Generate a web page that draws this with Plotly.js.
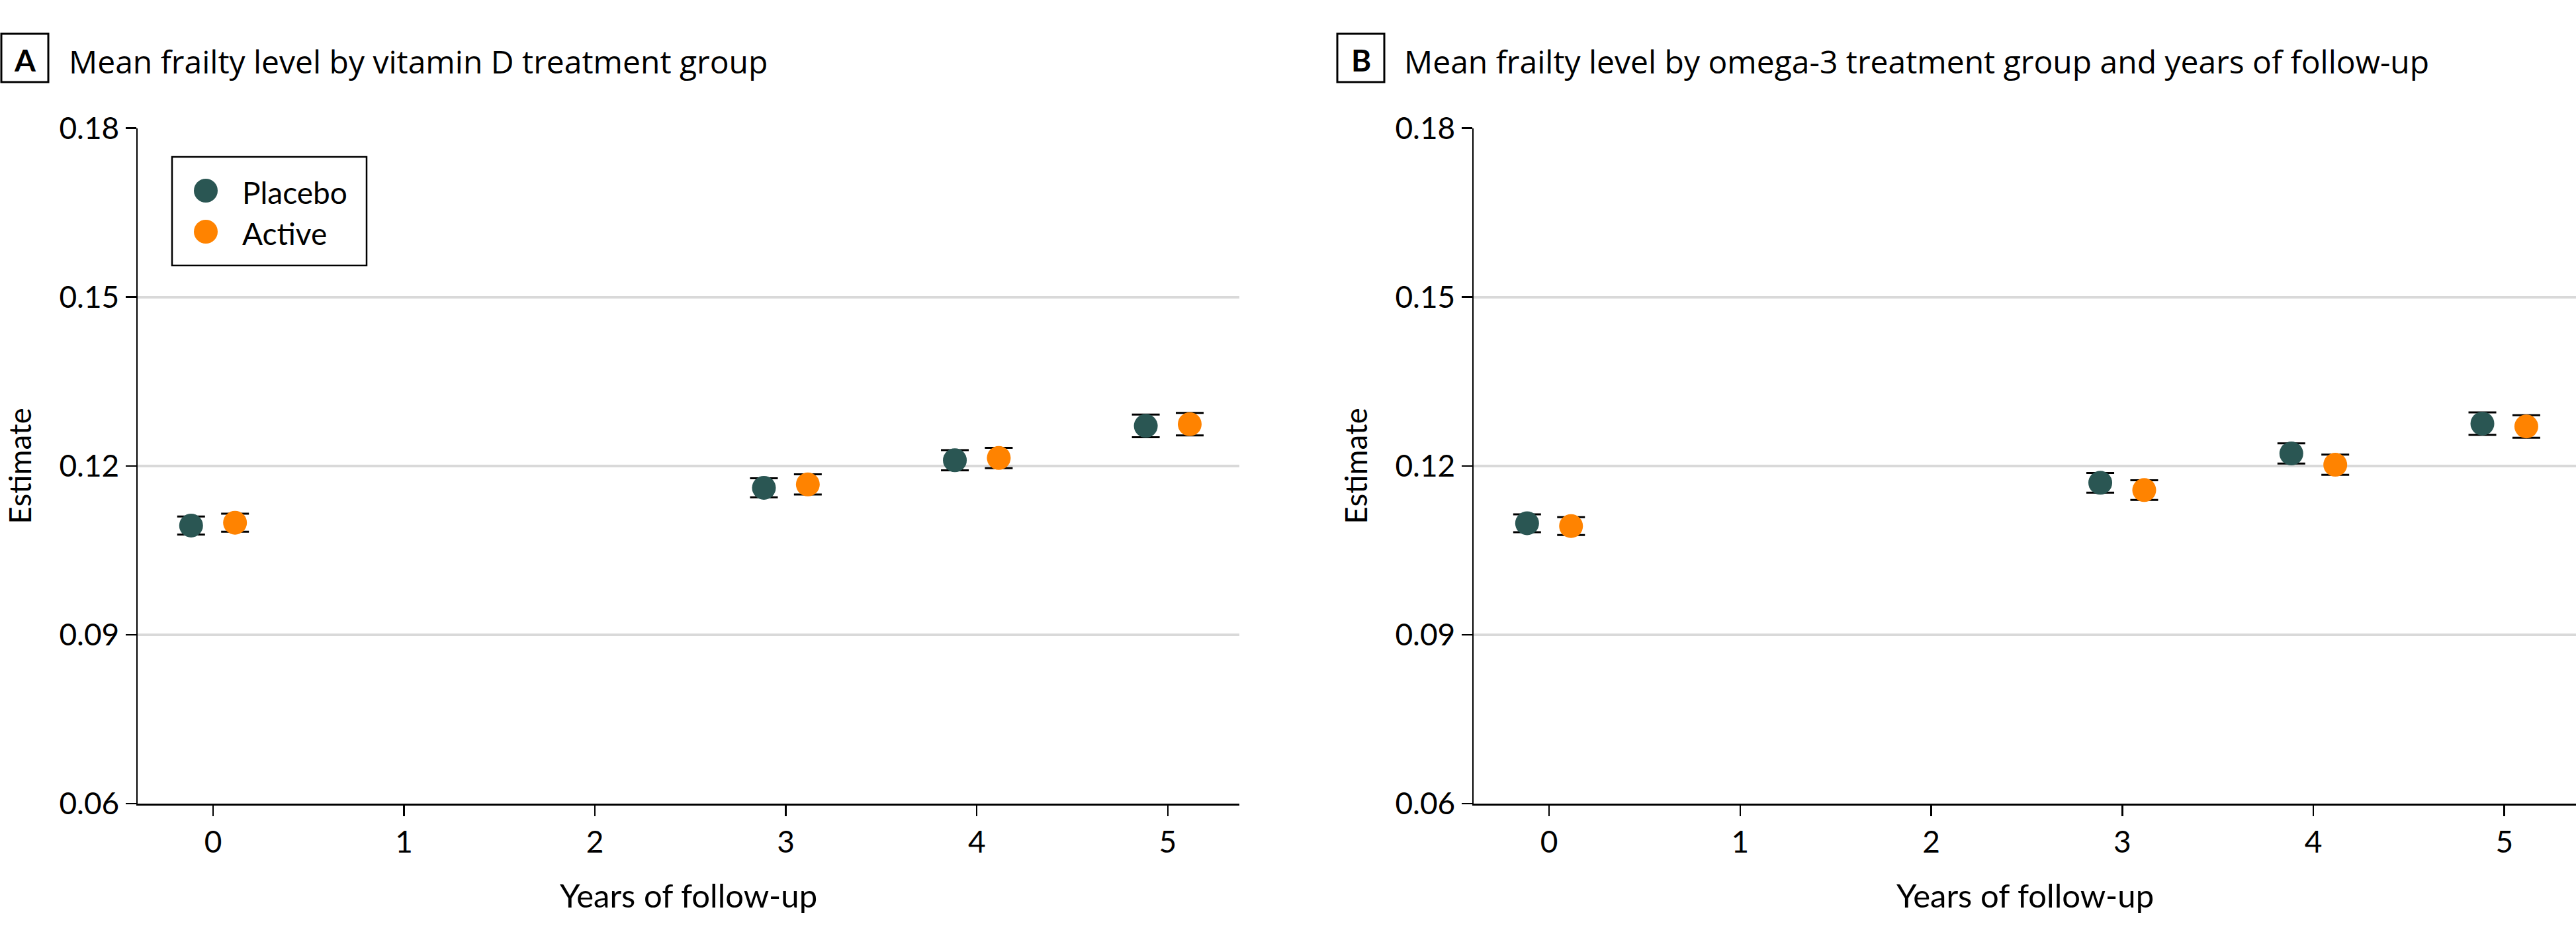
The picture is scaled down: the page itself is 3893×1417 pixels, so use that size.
<!DOCTYPE html>
<html>
<head>
<meta charset="utf-8">
<script src="https://cdn.plot.ly/plotly-3.0.1.min.js"></script>
<style>html,body{margin:0;padding:0;background:#fff;}#chart{width:3893px;height:1417px;}</style>
</head>
<body>
<div id="chart"></div>
<script>
// ---- Data ----
const years = [0, 3, 4, 5];
const xTickVals = [0, 1, 2, 3, 4, 5];
const xTickText = ["0", "1", "2", "3", "4", "5"];
const yTickVals = [0.06, 0.09, 0.12, 0.15, 0.18];
const yTickText = ["0.06", "0.09", "0.12", "0.15", "0.18"];

const seriesNames = ["Placebo", "Active"];

// Panel A: vitamin D
const vitD_placebo = [0.1094, 0.1161, 0.1210, 0.1271];
const vitD_placebo_err = [0.0016, 0.0017, 0.0018, 0.0020];
const vitD_active = [0.1099, 0.1167, 0.1214, 0.1274];
const vitD_active_err = [0.0016, 0.0018, 0.0018, 0.0020];

// Panel B: omega-3
const omega_placebo = [0.1098, 0.1170, 0.1222, 0.1275];
const omega_placebo_err = [0.0016, 0.00175, 0.0018, 0.0020];
const omega_active = [0.1093, 0.1157, 0.1202, 0.1270];
const omega_active_err = [0.0016, 0.00175, 0.0018, 0.0020];

const titleA = "Mean frailty level by vitamin D treatment group";
const titleB = "Mean frailty level by omega-3 treatment group and years of follow-up";
const xTitle = "Years of follow-up";
const yTitle = "Estimate";

// ---- Styling ----
const W = 3893, H = 1417;
const FONT = "Lato, 'Open Sans', 'Liberation Sans', sans-serif";
const TFONT = "'Open Sans', Lato, 'Liberation Sans', sans-serif";
const colPlacebo = "#2a5653";
const colActive = "#ff8300";
const dodge = 0.115;

const px = v => v / W;
const py = v => 1 - v / H;

function trace(ys, errs, name, color, shift, xa, ya) {
  return {
    type: "scatter", mode: "markers", name: name, showlegend: false,
    x: years.map(y => y + shift), y: ys,
    xaxis: xa, yaxis: ya,
    marker: { color: color, size: 36, line: { width: 0 } },
    error_y: { type: "data", array: errs, visible: true, color: "#000", thickness: 3, width: 21 },
    hoverinfo: "x+y"
  };
}

const data = [
  trace(vitD_placebo, vitD_placebo_err, seriesNames[0], colPlacebo, -dodge, "x", "y"),
  trace(vitD_active, vitD_active_err, seriesNames[1], colActive, dodge, "x", "y"),
  trace(omega_placebo, omega_placebo_err, seriesNames[0], colPlacebo, -dodge, "x2", "y2"),
  trace(omega_active, omega_active_err, seriesNames[1], colActive, dodge, "x2", "y2")
];

const yDom = [py(1214), py(193.5)];
const xDomA = [px(208), px(1873)];
const xDomB = [px(2227), 1];

function xaxis(dom, anchor) {
  return {
    domain: dom, anchor: anchor, range: [-0.395, 5.375],
    tickmode: "array", tickvals: xTickVals, ticktext: xTickText,
    ticks: "outside", ticklen: 16, tickwidth: 2.5, tickcolor: "#000",
    showline: true, linecolor: "#000", linewidth: 3,
    showgrid: false, zeroline: false,
    tickfont: { family: FONT, size: 46, color: "#000" }
  };
}
function yaxis(anchor) {
  return {
    domain: yDom, anchor: anchor, range: [0.06, 0.18],
    tickmode: "array", tickvals: yTickVals, ticktext: yTickText,
    ticks: "outside", ticklen: 16, tickwidth: 2.5, tickcolor: "#000",
    showline: true, linecolor: "#000", linewidth: 2.5,
    showgrid: true, gridcolor: "#d9d9d9", gridwidth: 4,
    zeroline: false,
    tickfont: { family: FONT, size: 46, color: "#000" }
  };
}

const ann = [];
const shapes = [];
function panelHeader(letter, title, boxX0, textX) {
  shapes.push({ type: "rect", xref: "paper", yref: "paper",
    x0: px(boxX0), x1: px(boxX0 + 71), y0: py(124), y1: py(51),
    line: { color: "#000", width: 3 }, fillcolor: "rgba(0,0,0,0)" });
  ann.push({ xref: "paper", yref: "paper", x: px(boxX0 + 35.5), y: py(90),
    xanchor: "center", yanchor: "middle", showarrow: false,
    text: "<b>" + letter + "</b>", font: { family: FONT, size: 46, color: "#000" } });
  ann.push({ xref: "paper", yref: "paper", x: px(textX), y: py(92),
    xanchor: "left", yanchor: "middle", showarrow: false,
    text: title, font: { family: TFONT, size: 48, color: "#000" } });
}
panelHeader("A", titleA, 2, 102);
panelHeader("B", titleB, 2021, 2120);

// axis titles
ann.push({ xref: "paper", yref: "paper", x: (xDomA[0] + xDomA[1]) / 2, y: py(1352),
  xanchor: "center", yanchor: "middle", showarrow: false, text: xTitle,
  font: { family: FONT, size: 49, color: "#000" } });
ann.push({ xref: "paper", yref: "paper", x: (xDomB[0] + xDomB[1]) / 2, y: py(1352),
  xanchor: "center", yanchor: "middle", showarrow: false, text: xTitle,
  font: { family: FONT, size: 49, color: "#000" } });
ann.push({ xref: "paper", yref: "paper", x: px(30), y: (yDom[0] + yDom[1]) / 2,
  xanchor: "center", yanchor: "middle", showarrow: false, text: yTitle, textangle: -90,
  font: { family: FONT, size: 46, color: "#000" } });
ann.push({ xref: "paper", yref: "paper", x: px(2049), y: (yDom[0] + yDom[1]) / 2,
  xanchor: "center", yanchor: "middle", showarrow: false, text: yTitle, textangle: -90,
  font: { family: FONT, size: 46, color: "#000" } });

// legend (panel A)
shapes.push({ type: "rect", xref: "paper", yref: "paper",
  x0: px(260), x1: px(554), y0: py(401), y1: py(237),
  line: { color: "#000", width: 2.5 }, fillcolor: "#fff", layer: "above" });
const legCols = [colPlacebo, colActive];
const legY = [288, 350];
seriesNames.forEach((n, i) => {
  shapes.push({ type: "circle", xref: "paper", yref: "paper",
    x0: px(311 - 18), x1: px(311 + 18), y0: py(legY[i] + 18), y1: py(legY[i] - 18),
    line: { width: 0 }, fillcolor: legCols[i], layer: "above" });
  ann.push({ xref: "paper", yref: "paper", x: px(364), y: py(legY[i] + 2),
    xanchor: "left", yanchor: "middle", showarrow: false, text: n,
    font: { family: FONT, size: 46, color: "#000" } });
});

const layout = {
  width: W, height: H,
  margin: { l: 0, r: 0, t: 0, b: 0 },
  paper_bgcolor: "#fff", plot_bgcolor: "#fff",
  showlegend: false,
  xaxis: xaxis(xDomA, "y"),
  yaxis: yaxis("x"),
  xaxis2: xaxis(xDomB, "y2"),
  yaxis2: yaxis("x2"),
  annotations: ann,
  shapes: shapes
};

Plotly.newPlot("chart", data, layout, { staticPlot: true, displayModeBar: false });
</script>
</body>
</html>
